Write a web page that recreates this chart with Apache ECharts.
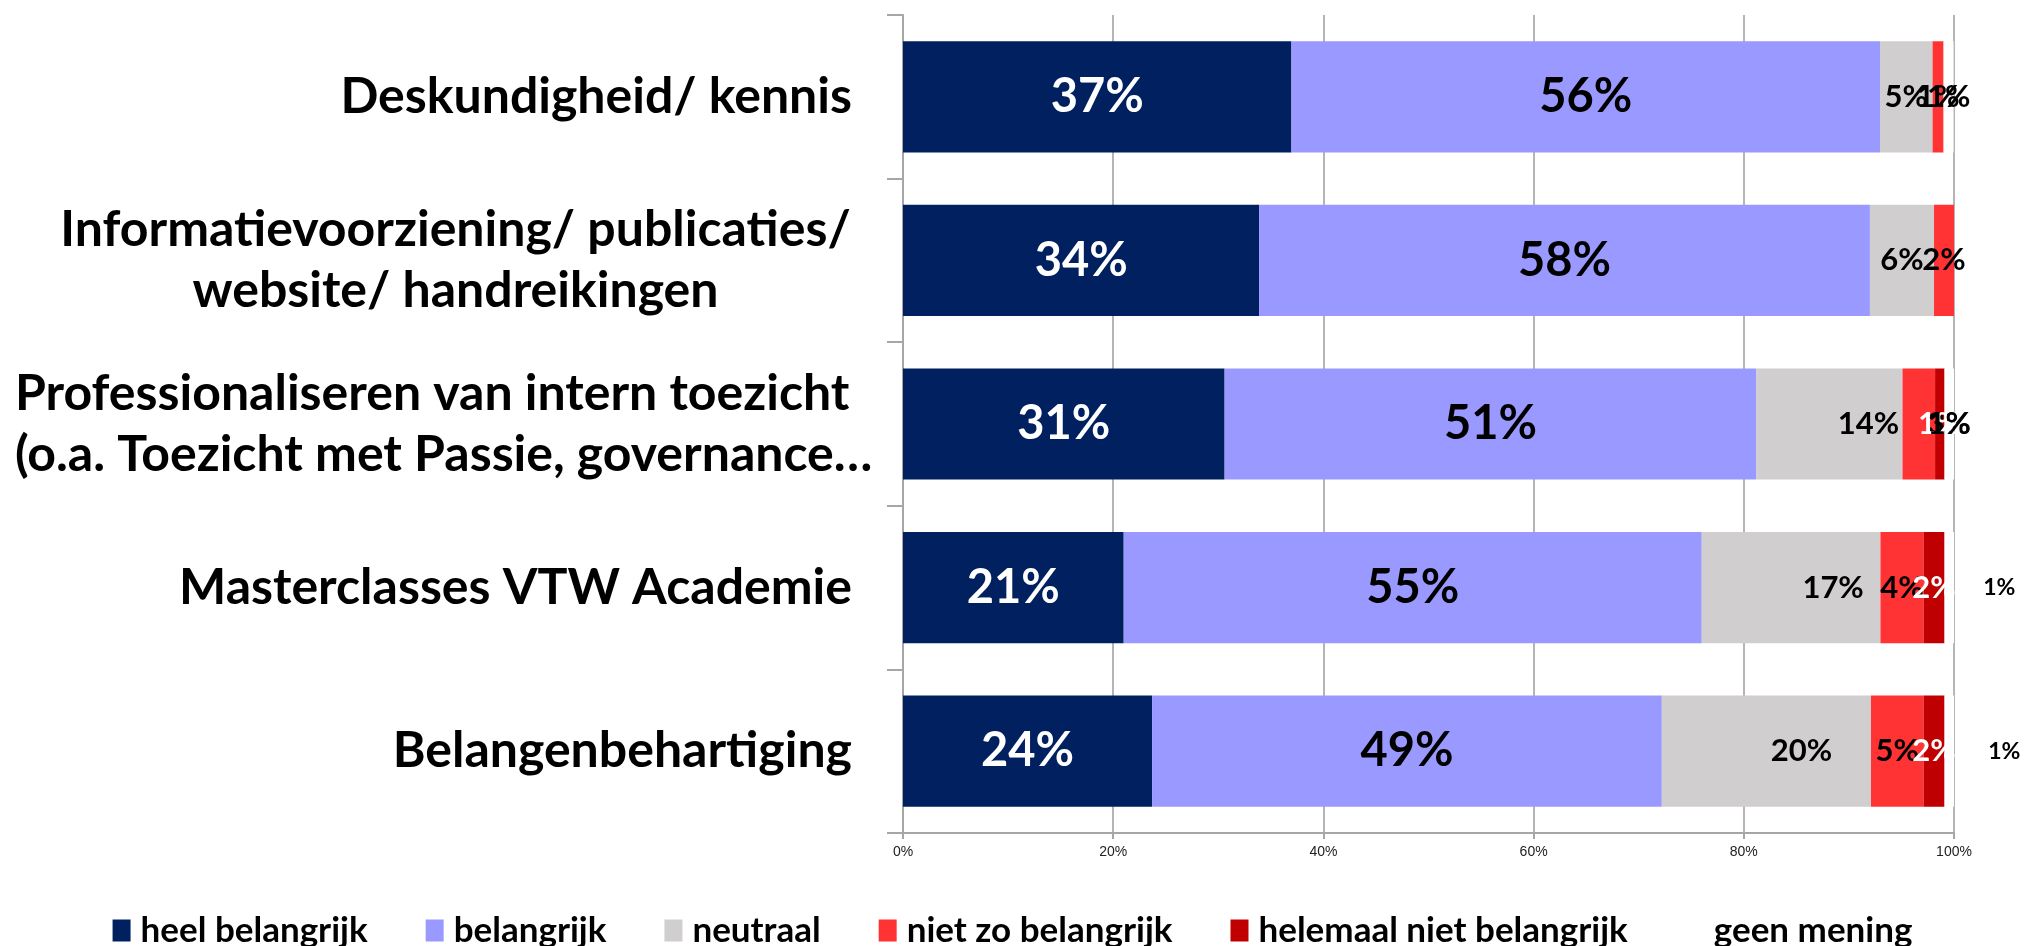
<!DOCTYPE html>
<html>
<head>
<meta charset="utf-8">
<script src="https://cdn.jsdelivr.net/npm/echarts@6/dist/echarts.min.js"></script>
<style>
html,body{margin:0;padding:0;background:#fff;}
#chart{width:2025px;height:946px;}
</style>
</head>
<body>
<div id="chart"></div>
<script>
// ---- data (percentages) ----
const categories = [
  'Deskundigheid/ kennis',
  'Informatievoorziening/ publicaties/\nwebsite/ handreikingen',
  'Professionaliseren van intern toezicht\n(o.a. Toezicht met Passie, governance…',
  'Masterclasses VTW Academie',
  'Belangenbehartiging'
];
const seriesNames = ['heel belangrijk', 'belangrijk', 'neutraal', 'niet zo belangrijk', 'helemaal niet belangrijk', 'geen mening'];
const heelBelangrijk   = [36.96, 33.9, 30.6, 21.0, 23.7];
const belangrijk       = [56.0, 58.1, 50.6, 55.0, 48.5];
const neutraal         = [5.0, 6.1, 13.9, 17.0, 19.9];
const nietZoBelangrijk = [1.05, 1.9, 3.1, 4.1, 5.0];
const helemaalNiet     = [0, 0, 0.9, 2.0, 2.0];
const geenMening       = [0.95, 0, 0.9, 0.9, 0.9];
const xTickMin = 0, xTickMax = 100, xTickStep = 20;

// ---- styling ----
const colors = ['#002060', '#9999FF', '#D0CECE', '#FF3333', '#C00000', '#FFFFFF'];
const labelColors = ['#fff', '#000', '#000', '#000', '#fff', '#000'];
const labelSizes = [47, 47, 31, 31, 31, 31];
// manual label nudges as in the original (by series index, row index)
const labelNudge = {
  2: {2: {offset: [39, 0]}, 3: {offset: [42, 0]}, 4: {offset: [35, 0]}},
  3: {2: {offset: [30, 0]}},
  5: {3: {offset: [50, 0], fontSize: 23}, 4: {offset: [55, 0], fontSize: 23}}
};
// alignment of the lines of multi-line category labels
const catLineAlign = {1: 'center', 2: 'left'};
const FONT = 'Lato';
const catSize = 50;

function build() {
  const canvas = document.createElement('canvas');
  const ctx = canvas.getContext('2d');
  ctx.font = 'bold ' + catSize + 'px ' + FONT;
  const rich = {};
  categories.forEach((c, i) => {
    const lines = c.split('\n');
    if (lines.length > 1) {
      const w = ctx.measureText(lines[0]).width;
      rich['m' + i] = {width: Math.ceil(w) + 2, align: catLineAlign[i] || 'center', fontSize: catSize, fontWeight: 'bold', fontFamily: FONT, color: '#000', lineHeight: 61};
    }
  });

  const all = [heelBelangrijk, belangrijk, neutraal, nietZoBelangrijk, helemaalNiet, geenMening];
  const series = all.map((vals, si) => ({
    name: seriesNames[si],
    type: 'bar',
    stack: 'total',
    barCategoryGap: '32%',
    itemStyle: {color: colors[si]},
    emphasis: {disabled: true},
    label: {
      show: true,
      position: 'inside',
      color: labelColors[si],
      fontSize: labelSizes[si],
      fontWeight: 'bold',
      fontFamily: FONT,
      formatter: p => p.value > 0 ? Math.round(p.value) + '%' : ''
    },
    data: vals.map((v, ri) => {
      const n = labelNudge[si] && labelNudge[si][ri];
      return n ? {value: v, label: n} : v;
    })
  }));

  const chart = echarts.init(document.getElementById('chart'));
  chart.setOption({
    animation: false,
    backgroundColor: '#fff',
    grid: {left: 903, right: 71, top: 15, bottom: 113, containLabel: false, outerBoundsMode: 'none'},
    legend: {
      left: 'center', top: 908,
      icon: 'rect', itemWidth: 18, itemHeight: 22, itemGap: 58,
      selectedMode: false,
      textStyle: {fontSize: 35, fontWeight: 'bold', fontFamily: FONT, color: '#000', padding: [0, 0, 0, 5]},
      data: seriesNames
    },
    xAxis: {
      type: 'value', min: xTickMin, max: xTickMax, interval: xTickStep,
      axisLine: {show: true, lineStyle: {color: '#A6A6A6', width: 2}},
      axisTick: {show: true, length: 6, lineStyle: {color: '#A6A6A6', width: 2}},
      splitLine: {show: true, lineStyle: {color: '#B5B5B5', width: 2}},
      axisLabel: {formatter: '{value}%', fontSize: 14, fontFamily: 'Liberation Sans', color: '#222', margin: 12}
    },
    yAxis: {
      type: 'category', inverse: true, data: categories,
      axisLine: {show: true, lineStyle: {color: '#A6A6A6', width: 2}},
      axisTick: {show: true, length: 16, lineStyle: {color: '#A6A6A6', width: 2}},
      axisLabel: {
        fontSize: catSize, fontWeight: 'bold', fontFamily: FONT, color: '#000',
        margin: 51, lineHeight: 61, align: 'right',
        rich: rich,
        formatter: (value, idx) => {
          const lines = value.split('\n');
          if (lines.length > 1) return lines.map(l => '{m' + idx + '|' + l + '}').join('\n');
          return value;
        }
      }
    },
    series: series
  });
}

if (document.fonts && document.fonts.load) {
  document.fonts.load('bold ' + catSize + 'px ' + FONT).then(build, build);
} else {
  build();
}
</script>
</body>
</html>
